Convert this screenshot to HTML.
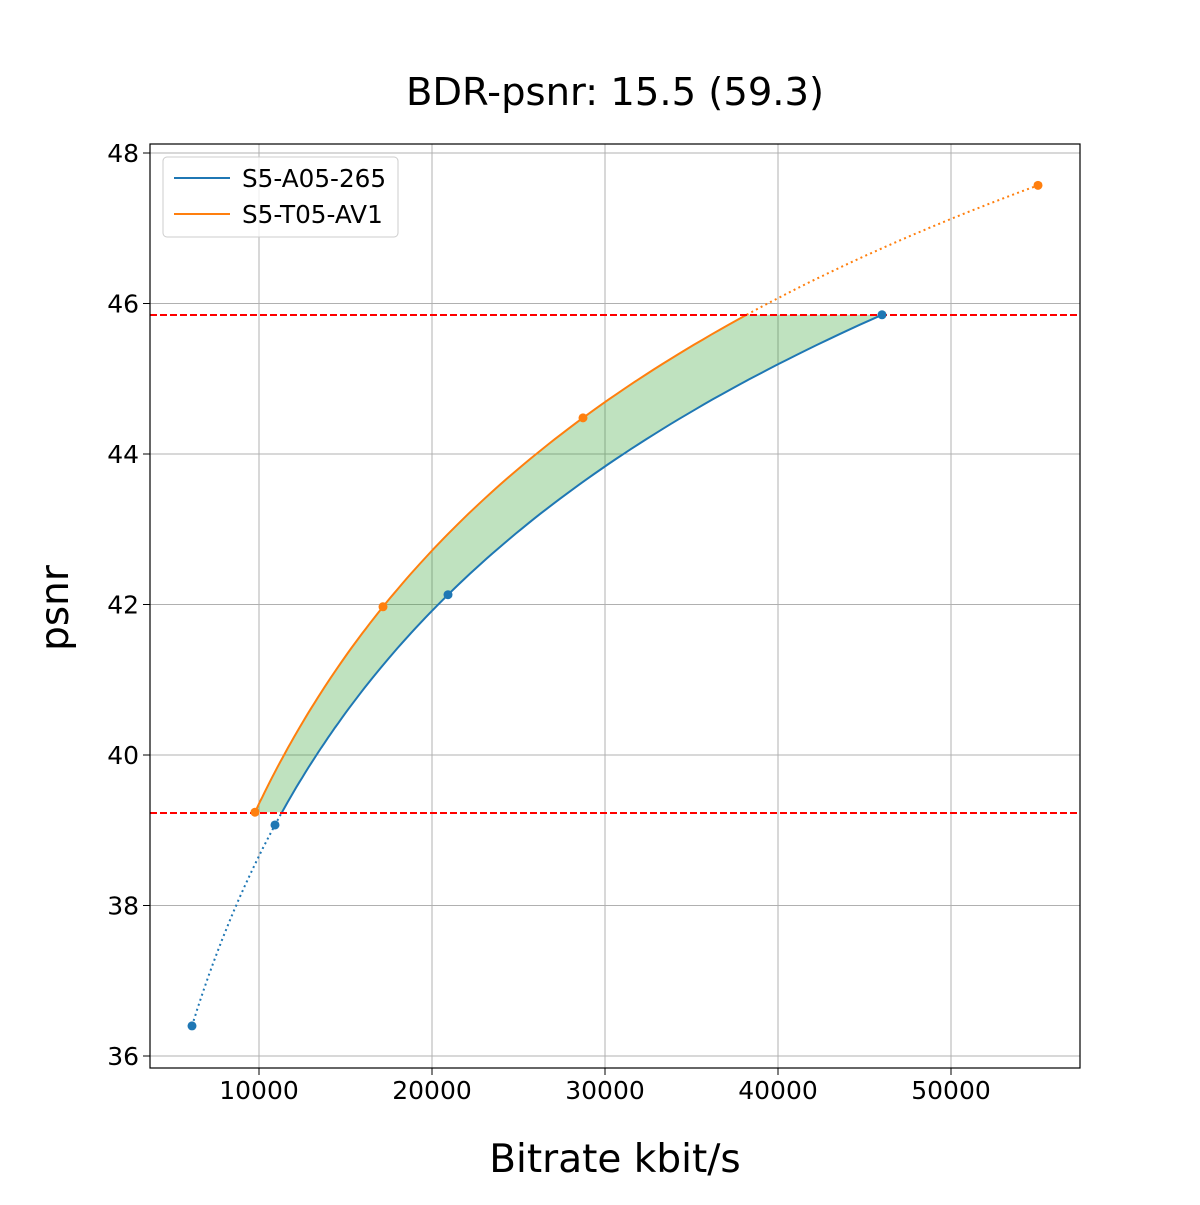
<!DOCTYPE html>
<html><head><meta charset="utf-8"><style>
body{margin:0;background:#fff;}
text{font-family:"DejaVu Sans","Liberation Sans",sans-serif;}
</style></head><body>
<svg id="s" width="1200" height="1200" xmlns="http://www.w3.org/2000/svg">
<rect width="1200" height="1200" fill="#fff"/>
<g id="grid" stroke="#b0b0b0" stroke-width="1"></g>
<path id="fill" fill="#2ca02c" fill-opacity="0.3" stroke="none"/>
<path id="bdot" fill="none" stroke="#1f77b4" stroke-width="2" stroke-dasharray="2,3.3"/>
<path id="bsol" fill="none" stroke="#1f77b4" stroke-width="2"/>
<path id="osol" fill="none" stroke="#ff7f0e" stroke-width="2"/>
<path id="odot" fill="none" stroke="#ff7f0e" stroke-width="2" stroke-dasharray="2,3.3"/>
<line x1="150" x2="1080" y1="315" y2="315" stroke="#ff0000" stroke-width="2" stroke-dasharray="7,3"/>
<line x1="150" x2="1080" y1="813" y2="813" stroke="#ff0000" stroke-width="2" stroke-dasharray="7,3"/>
<g id="pts"></g>
<rect x="150" y="144" width="930" height="924" fill="none" stroke="#000" stroke-width="1.2"/>
<g id="ticks" font-size="25" fill="#000"></g>
<text x="615" y="105" font-size="38.5" text-anchor="middle">BDR-psnr: 15.5 (59.3)</text>
<text x="615" y="1172" font-size="39" text-anchor="middle">Bitrate kbit/s</text>
<text transform="translate(68,608) rotate(-90)" font-size="39" text-anchor="middle">psnr</text>
<rect x="163" y="157" width="235" height="80" rx="4" fill="#fff" fill-opacity="0.8" stroke="#ccc"/>
<line x1="174" x2="230" y1="178" y2="178" stroke="#1f77b4" stroke-width="2"/>
<line x1="174" x2="230" y1="214" y2="214" stroke="#ff7f0e" stroke-width="2"/>
<text x="242" y="187" font-size="24.7">S5-A05-265</text>
<text x="242" y="223" font-size="24.7">S5-T05-AV1</text>
</svg>
<script>
var NS="http://www.w3.org/2000/svg";
function X(r){return 86+r*0.0173;} function Y(p){return 1056-(p-36)*75.25;}
var B=[[6127,36.40],[10925,39.07],[20925,42.13],[46012,45.85]];
var O=[[9769,39.24],[17168,41.97],[28728,44.48],[55029,47.57]];
function lag(d,p){var s=0;for(var i=0;i<4;i++){var t=Math.log(d[i][0]);for(var j=0;j<4;j++)if(j!=i)t*=(p-d[j][1])/(d[i][1]-d[j][1]);s+=t;}return Math.exp(s);}
function pts(d,a,b){var r=[];for(var k=0;k<=100;k++){var p=a+(b-a)*k/100;r.push([X(lag(d,p)),Y(p)]);}return r;}
function path(a){return "M"+a.map(function(q){return q[0].toFixed(1)+","+q[1].toFixed(1)}).join("L");}
var lo=39.24,hi=45.85;
document.getElementById("bdot").setAttribute("d",path(pts(B,36.40,lo)));
var bs=pts(B,lo,45.85);document.getElementById("bsol").setAttribute("d",path(bs));
var os=pts(O,39.24,hi);document.getElementById("osol").setAttribute("d",path(os));
document.getElementById("odot").setAttribute("d",path(pts(O,hi,47.57)));
document.getElementById("fill").setAttribute("d",path(os.concat(bs.slice().reverse()))+"Z");
var g=document.getElementById("pts");
B.forEach(function(q){var c=document.createElementNS(NS,"circle");c.setAttribute("cx",X(q[0]));c.setAttribute("cy",Y(q[1]));c.setAttribute("r",4.5);c.setAttribute("fill","#1f77b4");g.appendChild(c);});
O.forEach(function(q){var c=document.createElementNS(NS,"circle");c.setAttribute("cx",X(q[0]));c.setAttribute("cy",Y(q[1]));c.setAttribute("r",4.5);c.setAttribute("fill","#ff7f0e");g.appendChild(c);});
var gr=document.getElementById("grid"),tk=document.getElementById("ticks");
function el(p,n,a){var e=document.createElementNS(NS,n);for(var k in a)e.setAttribute(k,a[k]);p.appendChild(e);return e;}
for(var v=10000;v<=50000;v+=10000){var x=X(v);el(gr,"line",{x1:x,x2:x,y1:144,y2:1068});el(tk,"line",{x1:x,x2:x,y1:1068,y2:1075,stroke:"#000"});var t=el(tk,"text",{x:x,y:1099,"text-anchor":"middle"});t.textContent=v;}
for(var p=36;p<=48;p+=2){var y=Y(p);el(gr,"line",{x1:150,x2:1080,y1:y,y2:y});el(tk,"line",{x1:143,x2:150,y1:y,y2:y,stroke:"#000"});var t=el(tk,"text",{x:139,y:y+9,"text-anchor":"end"});t.textContent=p;}
</script>
</body></html>
